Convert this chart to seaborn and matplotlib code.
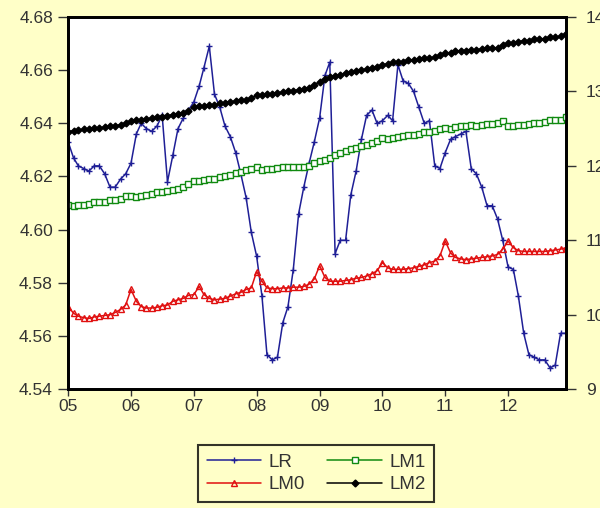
import numpy as np
import pandas as pd
import matplotlib
matplotlib.use("Agg")
import matplotlib.pyplot as plt
import seaborn as sns

# monthly data, Jan 2005 .. Dec 2012
dates = pd.date_range("2005-01-01", periods=96, freq="MS")

lr = [4.633, 4.627, 4.624, 4.623, 4.622, 4.624, 4.624, 4.621, 4.616, 4.616, 4.619, 4.621,
      4.625, 4.636, 4.640, 4.638, 4.637, 4.639, 4.643, 4.618, 4.628, 4.638, 4.642, 4.645,
      4.648, 4.654, 4.661, 4.669, 4.651, 4.646, 4.639, 4.635, 4.629, 4.621, 4.612, 4.599,
      4.590, 4.575, 4.553, 4.551, 4.552, 4.565, 4.571, 4.585, 4.606, 4.616, 4.625, 4.633,
      4.642, 4.658, 4.663, 4.591, 4.596, 4.596, 4.613, 4.622, 4.634, 4.643, 4.645, 4.640,
      4.641, 4.643, 4.641, 4.662, 4.656, 4.655, 4.652, 4.646, 4.640, 4.641, 4.624, 4.623,
      4.629, 4.634, 4.635, 4.636, 4.637, 4.623, 4.621, 4.616, 4.609, 4.609, 4.604, 4.596,
      4.586, 4.585, 4.575, 4.561, 4.553, 4.552, 4.551, 4.551, 4.548, 4.549, 4.561, 4.561]

lm0 = [10.11, 10.02, 9.98, 9.96, 9.95, 9.97, 9.98, 9.99, 10.00, 10.03, 10.07, 10.13,
       10.34, 10.18, 10.11, 10.09, 10.09, 10.10, 10.12, 10.13, 10.18, 10.20, 10.22, 10.26,
       10.27, 10.38, 10.27, 10.22, 10.20, 10.21, 10.22, 10.25, 10.28, 10.30, 10.34, 10.36,
       10.58, 10.45, 10.36, 10.35, 10.35, 10.36, 10.36, 10.37, 10.37, 10.38, 10.41, 10.48,
       10.66, 10.50, 10.45, 10.45, 10.45, 10.46, 10.47, 10.49, 10.50, 10.52, 10.55, 10.59,
       10.70, 10.63, 10.61, 10.61, 10.61, 10.62, 10.63, 10.65, 10.67, 10.70, 10.72, 10.79,
       10.99, 10.83, 10.77, 10.75, 10.74, 10.75, 10.76, 10.77, 10.78, 10.79, 10.81, 10.88,
       10.99, 10.90, 10.86, 10.85, 10.85, 10.85, 10.85, 10.85, 10.86, 10.87, 10.88, 10.90]

lm1 = [11.47, 11.46, 11.47, 11.48, 11.49, 11.51, 11.51, 11.52, 11.54, 11.54, 11.55, 11.59,
       11.60, 11.58, 11.60, 11.61, 11.62, 11.65, 11.65, 11.66, 11.68, 11.69, 11.71, 11.75,
       11.80, 11.79, 11.81, 11.82, 11.83, 11.85, 11.86, 11.88, 11.91, 11.92, 11.95, 11.96,
       11.99, 11.95, 11.96, 11.96, 11.97, 11.98, 11.98, 11.98, 11.99, 11.99, 12.00, 12.04,
       12.07, 12.08, 12.11, 12.14, 12.17, 12.20, 12.22, 12.24, 12.27, 12.28, 12.31, 12.34,
       12.37, 12.36, 12.38, 12.39, 12.40, 12.42, 12.42, 12.43, 12.45, 12.46, 12.47, 12.50,
       12.51, 12.50, 12.52, 12.53, 12.53, 12.55, 12.54, 12.55, 12.56, 12.56, 12.58, 12.605,
       12.53, 12.53, 12.55, 12.55, 12.56, 12.58, 12.58, 12.59, 12.61, 12.61, 12.62, 12.66]

lm2 = [12.46, 12.47, 12.48, 12.49, 12.49, 12.51, 12.51, 12.52, 12.54, 12.54, 12.55, 12.58,
       12.60, 12.61, 12.62, 12.63, 12.64, 12.65, 12.66, 12.67, 12.69, 12.70, 12.71, 12.74,
       12.79, 12.80, 12.81, 12.82, 12.82, 12.84, 12.85, 12.86, 12.87, 12.88, 12.88, 12.91,
       12.95, 12.95, 12.96, 12.97, 12.98, 12.99, 13.00, 13.01, 13.02, 13.03, 13.05, 13.09,
       13.13, 13.17, 13.19, 13.21, 13.22, 13.25, 13.26, 13.27, 13.29, 13.30, 13.31, 13.33,
       13.36, 13.37, 13.39, 13.40, 13.40, 13.42, 13.42, 13.43, 13.45, 13.45, 13.46, 13.49,
       13.52, 13.52, 13.54, 13.55, 13.55, 13.56, 13.56, 13.57, 13.58, 13.58, 13.59, 13.62,
       13.65, 13.65, 13.67, 13.68, 13.68, 13.70, 13.70, 13.71, 13.73, 13.73, 13.74, 13.77]

year_labels = ["05", "06", "07", "08", "09", "10", "11", "12"]
left_ticks = [4.54, 4.56, 4.58, 4.60, 4.62, 4.64, 4.66, 4.68]
right_ticks = [9, 10, 11, 12, 13, 14]

sns.set_theme(style="ticks")
plt.rcParams["font.family"] = ["Liberation Sans", "DejaVu Sans"]

bg = "#FFFFC8"
txt = "#333333"
fig, ax = plt.subplots(figsize=(6, 5.08), dpi=100, facecolor=bg)
fig.subplots_adjust(left=0.1125, right=0.944, top=0.9665, bottom=0.234)
ax.set_facecolor("white")
ax2 = ax.twinx()

sns.lineplot(x=dates, y=lr, ax=ax, color="#1f1f96", lw=1.1, marker="+",
             ms=5, mew=1, mec="#1f1f96")
sns.lineplot(x=dates, y=lm0, ax=ax2, color="#e01010", lw=1.1, marker="^",
             ms=5, mew=1, mec="#e01010", mfc="none")
sns.lineplot(x=dates, y=lm1, ax=ax2, color="#108a10", lw=1.1, marker="s",
             ms=4.5, mew=1, mec="#108a10", mfc="white")
sns.lineplot(x=dates, y=lm2, ax=ax2, color="black", lw=1.1, marker="D",
             ms=3.5, mew=1, mec="black")

ax.set_xlim(dates[0] - pd.Timedelta(days=4), dates[-1] + pd.Timedelta(days=4))
ax.set_ylim(4.54, 4.68)
ax2.set_ylim(9, 14)
ax.set_yticks(left_ticks)
ax.set_yticklabels([f"{v:.2f}" for v in left_ticks])
ax2.set_yticks(right_ticks)
ax2.set_yticklabels([str(v) for v in right_ticks])
ax.set_xticks(dates[::12])
ax.set_xticklabels(year_labels)
ax.set_xlabel("")
ax.set_ylabel("")
ax2.set_ylabel("")

ax.tick_params(axis="y", direction="out", length=7, width=1, pad=3.5,
               labelsize=12.5, colors=txt)
ax.tick_params(axis="x", direction="out", length=5, width=1, pad=2,
               labelsize=12.5, colors=txt)
ax2.tick_params(axis="y", direction="out", length=7, width=1, pad=7,
                labelsize=12.5, colors=txt)
for a in (ax, ax2):
    for s in a.spines.values():
        s.set_color("black")
        s.set_linewidth(2)

handles = [ax.lines[0], ax2.lines[0], ax2.lines[1], ax2.lines[2]]
leg = fig.legend(handles, ["LR", "LM0", "LM1", "LM2"], ncol=2, loc="center",
                 bbox_to_anchor=(0.527, 0.068), fontsize=13.5, frameon=True,
                 fancybox=False, edgecolor="black", facecolor=bg,
                 handlelength=2.9, columnspacing=1.2, handletextpad=0.4,
                 borderpad=0.45, labelspacing=0.3)
leg.get_frame().set_linewidth(1.5)
for t in leg.get_texts():
    t.set_color(txt)

fig.savefig("out.png", dpi=100, facecolor=bg)
